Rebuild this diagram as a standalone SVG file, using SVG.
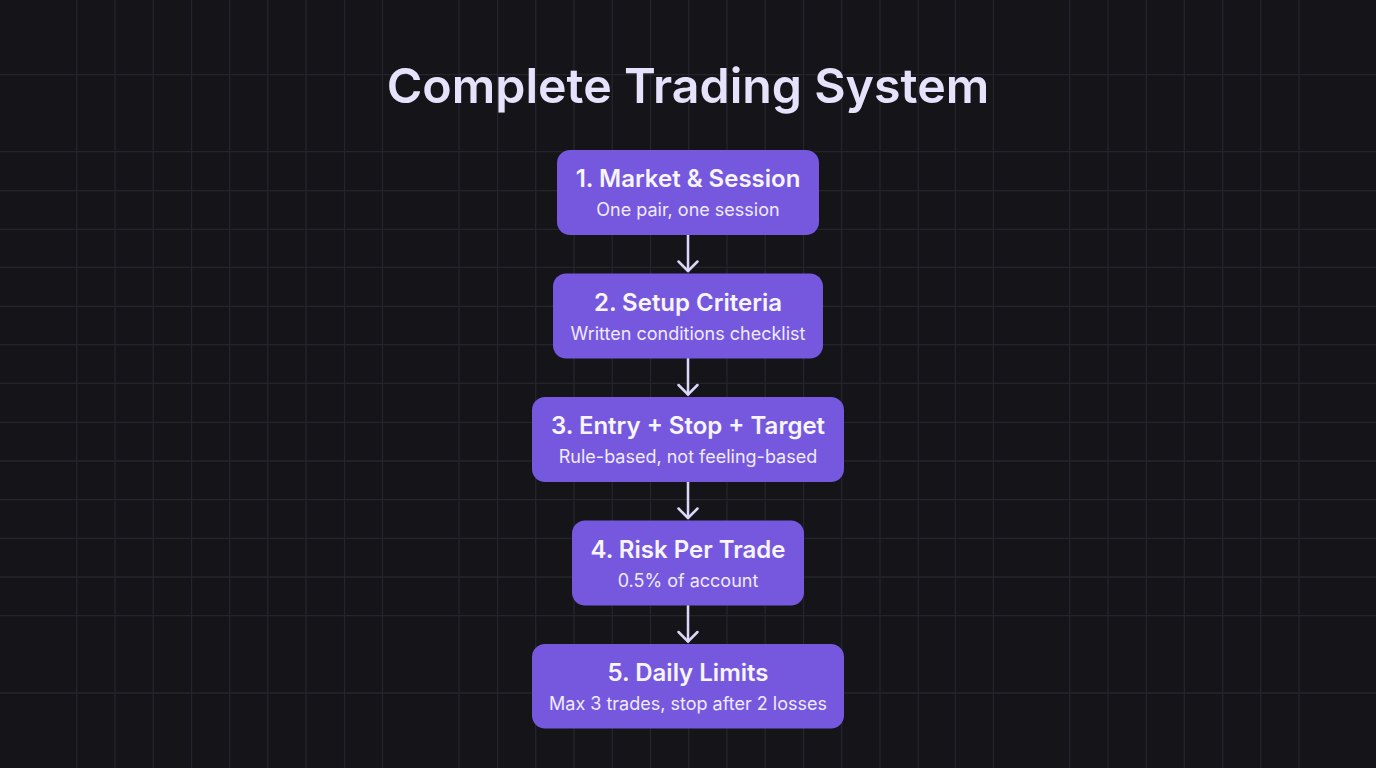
<svg xmlns="http://www.w3.org/2000/svg" width="1376" height="768" viewBox="0 0 1376 768">
  <defs>
    <style>
      .grid line { stroke: #24242d; stroke-width: 1.3; }
      .node rect { fill: #7658df; }
      .ntitle { font-family: Inter, "Noto Sans", "Liberation Sans", sans-serif; font-weight: 600; font-size: 24px; fill: #f7f5ff; text-anchor: middle; }
      .nsub { font-family: Inter, "Noto Sans", "Liberation Sans", sans-serif; font-weight: 400; font-size: 18px; fill: #efebff; text-anchor: middle; }
      .title { font-family: Inter, "Noto Sans", "Liberation Sans", sans-serif; font-weight: 600; font-size: 48.3px; fill: #e7e2fb; text-anchor: middle; }
      .conn line, .conn polyline { stroke: #dcd6f8; stroke-width: 2.5; fill: none; stroke-linecap: round; stroke-linejoin: round; }
    </style>
  </defs>
  <rect width="1376" height="768" fill="#141419"/>
  <g class="grid">
    <line x1="76.7" y1="0" x2="76.7" y2="768"/>
    <line x1="115" y1="0" x2="115" y2="768"/>
    <line x1="153.2" y1="0" x2="153.2" y2="768"/>
    <line x1="191.5" y1="0" x2="191.5" y2="768"/>
    <line x1="229.7" y1="0" x2="229.7" y2="768"/>
    <line x1="267.8" y1="0" x2="267.8" y2="768"/>
    <line x1="306" y1="0" x2="306" y2="768"/>
    <line x1="344.5" y1="0" x2="344.5" y2="768"/>
    <line x1="382.5" y1="0" x2="382.5" y2="768"/>
    <line x1="459" y1="0" x2="459" y2="768"/>
    <line x1="497.5" y1="0" x2="497.5" y2="768"/>
    <line x1="535.7" y1="0" x2="535.7" y2="768"/>
    <line x1="574" y1="0" x2="574" y2="768"/>
    <line x1="612.2" y1="0" x2="612.2" y2="768"/>
    <line x1="650.5" y1="0" x2="650.5" y2="768"/>
    <line x1="688.7" y1="0" x2="688.7" y2="768"/>
    <line x1="727" y1="0" x2="727" y2="768"/>
    <line x1="765.2" y1="0" x2="765.2" y2="768"/>
    <line x1="803.5" y1="0" x2="803.5" y2="768"/>
    <line x1="841.7" y1="0" x2="841.7" y2="768"/>
    <line x1="880" y1="0" x2="880" y2="768"/>
    <line x1="918.2" y1="0" x2="918.2" y2="768"/>
    <line x1="955.3" y1="0" x2="955.3" y2="768"/>
    <line x1="993.3" y1="0" x2="993.3" y2="768"/>
    <line x1="1069.7" y1="0" x2="1069.7" y2="768"/>
    <line x1="1108" y1="0" x2="1108" y2="768"/>
    <line x1="1146.3" y1="0" x2="1146.3" y2="768"/>
    <line x1="1184.3" y1="0" x2="1184.3" y2="768"/>
    <line x1="1222.7" y1="0" x2="1222.7" y2="768"/>
    <line x1="1260.7" y1="0" x2="1260.7" y2="768"/>
    <line x1="1299" y1="0" x2="1299" y2="768"/>
    <line x1="0" y1="74.7" x2="1376" y2="74.7"/>
    <line x1="0" y1="151.7" x2="1376" y2="151.7"/>
    <line x1="0" y1="190.7" x2="1376" y2="190.7"/>
    <line x1="0" y1="229.3" x2="1376" y2="229.3"/>
    <line x1="0" y1="267.3" x2="1376" y2="267.3"/>
    <line x1="0" y1="306.3" x2="1376" y2="306.3"/>
    <line x1="0" y1="344.7" x2="1376" y2="344.7"/>
    <line x1="0" y1="383.3" x2="1376" y2="383.3"/>
    <line x1="0" y1="422.3" x2="1376" y2="422.3"/>
    <line x1="0" y1="461" x2="1376" y2="461"/>
    <line x1="0" y1="499.7" x2="1376" y2="499.7"/>
    <line x1="0" y1="538.3" x2="1376" y2="538.3"/>
    <line x1="0" y1="577" x2="1376" y2="577"/>
    <line x1="0" y1="615.7" x2="1376" y2="615.7"/>
    <line x1="0" y1="693" x2="1376" y2="693"/>
  </g>
  <text class="title" x="688" y="103">Complete Trading System</text>
  <g class="conn">
    <line x1="688" y1="235" x2="688" y2="271"/>
    <polyline points="678.5,261.5 688,271 697.5,261.5"/>
    <line x1="688" y1="358.5" x2="688" y2="394.5"/>
    <polyline points="678.5,385 688,394.5 697.5,385"/>
    <line x1="688" y1="482" x2="688" y2="518"/>
    <polyline points="678.5,508.5 688,518 697.5,508.5"/>
    <line x1="688" y1="605.5" x2="688" y2="641.5"/>
    <polyline points="678.5,632 688,641.5 697.5,632"/>
  </g>
  <g id="node1" class="node">
    <rect x="557" y="150" width="262" height="85" rx="13"/>
    <text class="ntitle" x="688" y="187">1. Market &amp; Session</text>
    <text class="nsub" x="688" y="216">One pair, one session</text>
  </g>
  <g id="node2" class="node">
    <rect x="553" y="273.5" width="270" height="85" rx="13"/>
    <text class="ntitle" x="688" y="310.5">2. Setup Criteria</text>
    <text class="nsub" x="688" y="339.5">Written conditions checklist</text>
  </g>
  <g id="node3" class="node">
    <rect x="532" y="397" width="312" height="85" rx="13"/>
    <text class="ntitle" x="688" y="434">3. Entry + Stop + Target</text>
    <text class="nsub" x="688" y="463">Rule-based, not feeling-based</text>
  </g>
  <g id="node4" class="node">
    <rect x="572" y="520.5" width="232" height="85" rx="13"/>
    <text class="ntitle" x="688" y="557.5">4. Risk Per Trade</text>
    <text class="nsub" x="688" y="586.5">0.5% of account</text>
  </g>
  <g id="node5" class="node">
    <rect x="532" y="644" width="312" height="84.5" rx="13"/>
    <text class="ntitle" x="688" y="681">5. Daily Limits</text>
    <text class="nsub" x="688" y="710">Max 3 trades, stop after 2 losses</text>
  </g>
</svg>
